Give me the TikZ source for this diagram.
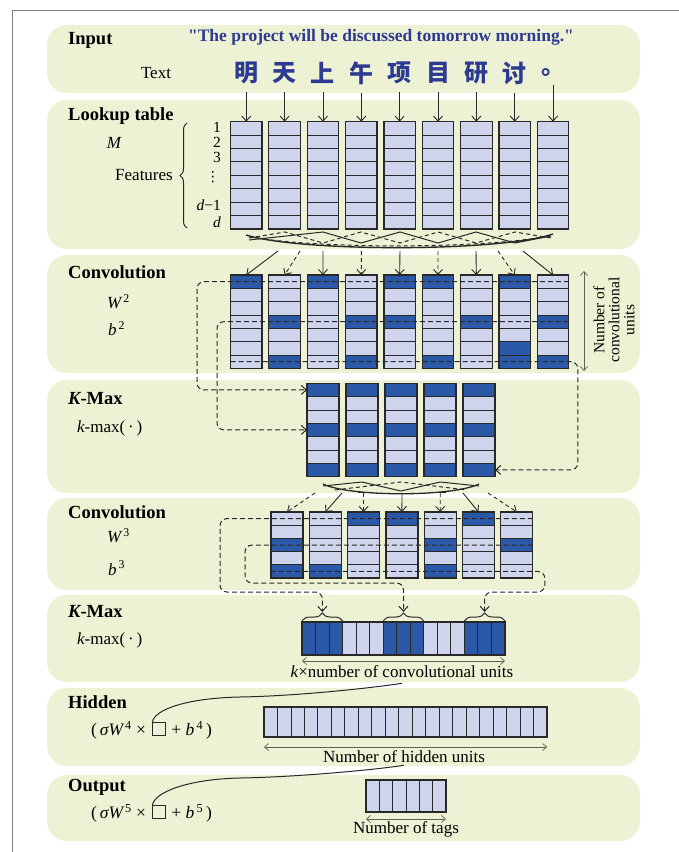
\documentclass[tikz,border=0pt]{standalone}
\usepackage{fontspec}
\setmainfont{Liberation Serif}
\newfontfamily\qfont{Liberation Serif}
\newfontfamily\dvfont{DejaVu Sans}
\newfontfamily\cjkfont{Noto Sans CJK SC}
\usetikzlibrary{arrows.meta,decorations.pathreplacing,calc}
\definecolor{panelc}{RGB}{237,242,212}
\definecolor{lightc}{RGB}{205,212,236}
\definecolor{darkc}{RGB}{44,88,168}
\definecolor{quotec}{RGB}{45,58,145}
\definecolor{framec}{RGB}{128,128,128}
\definecolor{dimc}{RGB}{90,100,85}
\definecolor{linec}{RGB}{40,40,40}
\tikzset{
  panel/.style={fill=panelc, rounded corners=20pt},
  cellL/.style={draw=linec, line width=0.9pt, fill=lightc, inner sep=0pt, outer sep=0pt, anchor=north west},
  cellD/.style={cellL, fill=darkc},
  colbox/.style={draw=linec, line width=1.2pt, inner sep=0pt, outer sep=0pt, anchor=north west},
  title/.style={font=\fontsize{18.5}{20}\selectfont\bfseries, anchor=west, inner sep=0pt},
  lab/.style={font=\fontsize{17}{19}\selectfont, inner sep=0pt},
  small/.style={font=\fontsize{15.5}{15}\selectfont, inner sep=0pt},
  cjk/.style={font=\fontsize{24}{26}\selectfont\cjkfont\bfseries, text=quotec, inner sep=0pt},
  tip/.style={-{Straight Barb[length=5pt,width=9pt]}},
  arr/.style={tip, line width=0.9pt, draw=linec},
  darr/.style={arr, dash pattern=on 4pt off 3pt},
  dline/.style={draw=linec, line width=1pt, dash pattern=on 5pt off 3pt, rounded corners=7pt},
  dimarr/.style={{Straight Barb[length=4pt,width=7pt]}-{Straight Barb[length=4pt,width=7pt]}, draw=dimc, line width=0.7pt},
  bracest/.style={decorate, decoration={brace, amplitude=8pt, raise=1pt}, draw=linec, line width=1pt},
  sqbox/.style={draw=linec, line width=0.8pt, inner sep=0pt, outer sep=0pt, minimum width=13pt, minimum height=13pt},
  swoop/.style={draw=linec, line width=1pt},
  dswoop/.style={swoop, dash pattern=on 4pt off 3pt},
}
\begin{document}
\begin{tikzpicture}[x=1pt,y=-1pt]
\useasboundingbox (0,0) rectangle (679,852);
% frame
\draw[framec, line width=1.3pt] (12.5,852) -- (12.5,10.5) -- (679,10.5);
% panels
\foreach \t/\b in {25/93,100/249,255/373,380/493,498/590,595/682,688/766,775/841}
  \path[panel] (47,\t) rectangle (640,\b);

% ---------------- Input ----------------
\node[title] (tin) at (68,40) {Input};
\node[font=\fontsize{17.5}{19}\selectfont\qfont\bfseries, text=quotec, inner sep=0pt] (quote) at (381,37) {"The project will be discussed tomorrow morning."};
\node[lab] (ttext) at (156,73) {Text};
\foreach \i/\c in {0/明,1/天,2/上,3/午,4/项,5/目,6/研,7/讨,8/。}{
  \pgfmathsetmacro\cx{246.25+38.35*\i}
  \node[cjk] (ch\i) at (\cx,73) {\c};
}

% ---------------- Lookup table ----------------
\node[title] (tlook) at (68,116) {Lookup table};
\node[lab, font=\fontsize{17}{19}\selectfont\itshape] (tM) at (114,143) {M};
\node[lab, anchor=east] (tfeat) at (173,175) {Features};
\draw[bracest, decoration={brace, amplitude=7pt, raise=0pt}] (187,228) -- (187,123);
\node[small, anchor=east] (n1) at (221,127) {1};
\node[small, anchor=east] (n2) at (221,142) {2};
\node[small, anchor=east] (n3) at (221,157) {3};
\node[small, anchor=east, font=\fontsize{14}{14}\selectfont\dvfont] (n4) at (220,177) {⋮};
\node[small, anchor=east] (n5) at (221,205) {{\itshape d}−1};
\node[small, anchor=east] (n6) at (221,222) {{\itshape d}};
\foreach \i in {0,...,8}{
  \pgfmathsetmacro\lx{230.5+38.35*\i}
  \foreach \j in {1,...,8}{
    \pgfmathsetmacro\ly{121.7+13.4*(\j-1)}
    \node[cellL, minimum width=31.5pt, minimum height=13.4pt] (L\i-\j) at (\lx,\ly) {};
  }
  \node[colbox, minimum width=31.5pt, minimum height=107.2pt] (Lcol\i) at (\lx,121.7) {};
  \draw[arr, shorten <=8pt] (ch\i.south) -- (Lcol\i.north);
}
% swoops under lookup table
\draw[swoop] (249,240) -- (323,232) -- (361,243) -- (400,232) -- (438,243) -- (476,232) -- (515,243) -- (551,236);
\draw[dswoop] (249,238) -- (285,232) -- (323,243) -- (361,232) -- (400,243) -- (438,232) -- (476,243) -- (515,232) -- (551,238);
\draw[swoop, line width=1.4pt] (246,235) .. controls (300,252) and (500,252) .. (553,234);
\draw[dswoop] (250,237) .. controls (320,249) and (480,249) .. (550,236);

% ---------------- Convolution 1 ----------------
\node[title] (tconv) at (68,272) {Convolution};
\node[lab, anchor=west] (tW2) at (107,302) {{\itshape W}\textsuperscript{\,2}};
\node[lab, anchor=west] (tb2) at (108,329) {{\itshape b}\textsuperscript{\,2}};
\foreach \i in {0,...,8}{
  \pgfmathsetmacro\lx{230.5+38.35*\i}
  \foreach \j in {1,...,7}{
    \pgfmathsetmacro\ly{275+13.33*(\j-1)}
    \node[cellL, minimum width=31.5pt, minimum height=13.33pt] (C\i-\j) at (\lx,\ly) {};
  }
}
\foreach \i/\j in {0/1,1/4,1/7,2/1,3/4,3/7,4/1,4/4,5/1,5/7,6/4,7/1,7/6,7/7,8/4,8/7}{
  \pgfmathsetmacro\lx{230.5+38.35*\i}
  \pgfmathsetmacro\ly{275+13.33*(\j-1)}
  \node[cellD, minimum width=31.5pt, minimum height=13.33pt] (Cd\i-\j) at (\lx,\ly) {};
}
\foreach \i in {0,...,8}{
  \pgfmathsetmacro\lx{230.5+38.35*\i}
  \node[colbox, minimum width=31.5pt, minimum height=93.3pt] (Ccol\i) at (\lx,275) {};
}
% arrows lookup -> convolution
\foreach \i/\sx in {0/278,2/323,4/400,6/476,8/523}{
  \coordinate (J\i) at (\sx,251);
  \draw[arr] (J\i) -- (Ccol\i.north);
}
\foreach \i/\sx in {1/300,3/361.3,5/438,7/498}{
  \coordinate (J\i) at (\sx,251);
  \draw[darr] (J\i) -- (Ccol\i.north);
}
% number of convolutional units
\coordinate (nc1) at (584,271);
\coordinate (nc2) at (584,371);
\draw[dimarr] (nc1) -- (nc2);
\node[small, rotate=90, align=center] (tncu) at (614,320) {Number of\\convolutional\\units};

% ---------------- K-Max 1 ----------------
\node[title] (tkmax) at (68,399) {{\itshape K}-Max};
\node[lab, anchor=west] (tkf) at (77,428) {{\itshape k}-max(\,·\,)};
\foreach \i in {0,...,4}{
  \pgfmathsetmacro\lx{307+39*\i}
  \foreach \j in {1,...,7}{
    \pgfmathsetmacro\ly{383.3+13.33*(\j-1)}
    \node[cellL, minimum width=32pt, minimum height=13.33pt] (K\i-\j) at (\lx,\ly) {};
  }
  \foreach \j in {1,4,7}{
    \pgfmathsetmacro\ly{383.3+13.33*(\j-1)}
    \node[cellD, minimum width=32pt, minimum height=13.33pt] (Kd\i-\j) at (\lx,\ly) {};
  }
  \node[colbox, minimum width=32pt, minimum height=93.3pt] (Kcol\i) at (\lx,383.3) {};
}
% dashed k-max selections
\draw[dline, tip] (C8-1.east) -- ($(C0-1.west)+(-33.5,0)$) |- (K0-1.west);
\draw[dline, tip] (C8-4.east) -- ($(C0-4.west)+(-13.5,0)$) |- (K0-4.west);
\draw[dline, tip] (C0-7.west) -- ($(C8-7.east)+(9,0)$) |- (K4-7.east);
% swoops under k-max
\draw[swoop] (323,486) -- (362,482) -- (401,491) -- (440,482) -- (479,486);
\draw[dswoop] (335,490) -- (401,482) -- (467,490);
\draw[swoop, line width=1.3pt] (323,484) .. controls (350,497) and (452,497) .. (479,484);

% ---------------- Convolution 2 ----------------
\node[title] (tconv2) at (68,512) {Convolution};
\node[lab, anchor=west] (tW3) at (107,536) {{\itshape W}\textsuperscript{\,3}};
\node[lab, anchor=west] (tb3) at (108,568) {{\itshape b}\textsuperscript{\,3}};
\foreach \i in {0,...,6}{
  \pgfmathsetmacro\lx{271+38.3*\i}
  \foreach \j in {1,...,5}{
    \pgfmathsetmacro\ly{512+13.2*(\j-1)}
    \node[cellL, minimum width=32pt, minimum height=13.2pt] (D\i-\j) at (\lx,\ly) {};
  }
}
\foreach \i/\j in {0/3,0/5,1/5,2/1,3/1,4/3,4/5,5/1,6/3}{
  \pgfmathsetmacro\lx{271+38.3*\i}
  \pgfmathsetmacro\ly{512+13.2*(\j-1)}
  \node[cellD, minimum width=32pt, minimum height=13.2pt] (Dd\i-\j) at (\lx,\ly) {};
}
\foreach \i in {0,...,6}{
  \pgfmathsetmacro\lx{271+38.3*\i}
  \node[colbox, minimum width=32pt, minimum height=66pt] (Dcol\i) at (\lx,512) {};
}
% arrows k-max -> convolution 2
\foreach \i/\sx in {1/342,3/402,5/463}{
  \coordinate (E\i) at (\sx,493);
  \draw[arr] (E\i) -- (Dcol\i.north);
}
\foreach \i/\sx in {0/315,2/363.6,4/440.2,6/488}{
  \coordinate (E\i) at (\sx,493);
  \draw[darr] (E\i) -- (Dcol\i.north);
}
\draw[swoop] (358,492) -- (369,492);
\draw[swoop] (435,492) -- (446,492);

% ---------------- K-Max 2 ----------------
\node[title] (tkmax2) at (68,612) {{\itshape K}-Max};
\node[lab, anchor=west] (tkf2) at (77,640) {{\itshape k}-max(\,·\,)};
\foreach \k in {0,...,14}{
  \pgfmathsetmacro\lx{302+13.533*\k}
  \node[cellL, minimum width=13.533pt, minimum height=33pt] (B\k) at (\lx,622) {};
}
\foreach \k in {0,1,2,6,7,8,12,13,14}{
  \pgfmathsetmacro\lx{302+13.533*\k}
  \node[cellD, minimum width=13.533pt, minimum height=33pt] (Bd\k) at (\lx,622) {};
}
\node[colbox, minimum width=203pt, minimum height=33pt] (Bbar) at (302,622) {};
\draw[bracest] (B0.north west) -- (B2.north east);
\draw[bracest] (B6.north west) -- (B8.north east);
\draw[bracest] (B12.north west) -- (B14.north east);
\coordinate (t1) at ($(B0.north west)!0.5!(B2.north east)+(0,-10)$);
\coordinate (t2) at ($(B6.north west)!0.5!(B8.north east)+(0,-10)$);
\coordinate (t3) at ($(B12.north west)!0.5!(B14.north east)+(0,-10)$);
\draw[dline, tip] (D6-1.east) -- ($(D0-1.west)+(-51,0)$) |- ($(t1)+(0,-20)$) -- (t1);
\draw[dline, tip] (D6-3.east) -- ($(D0-3.west)+(-26,0)$) |- ($(t2)+(0,-29)$) -- (t2);
\draw[dline, tip] (D0-5.west) -- ($(D6-5.east)+(12,0)$) |- ($(t3)+(0,-20)$) -- (t3);
\draw[dimarr] ([yshift=-6pt]B0.south west) -- ([yshift=-6pt]B14.south east);
\node[lab] (klab) at (402,672) {{\itshape k}×number of convolutional units};

% ---------------- Hidden ----------------
\node[title] (thid) at (68,702) {Hidden};
\node[lab, font=\fontsize{17.5}{19}\selectfont, anchor=base west] (hf1) at (91,735.5) {(\,{\itshape σW}\textsuperscript{\,4} ×};
\node[sqbox, anchor=south west] (hsq) at ([xshift=6pt]hf1.base east) {};
\node[lab, font=\fontsize{17.5}{19}\selectfont, anchor=base west] (hf2) at ([xshift=6pt]hsq.south east) {+ {\itshape b}\textsuperscript{\,4}\,)};
\foreach \k in {0,...,20}{
  \pgfmathsetmacro\lx{264+13.48*\k}
  \node[cellL, minimum width=13.48pt, minimum height=30pt] (H\k) at (\lx,707) {};
}
\node[colbox, minimum width=283pt, minimum height=30pt] (Hbar) at (264,707) {};
\draw[dimarr] ([yshift=-10pt]H0.south west) -- ([yshift=-10pt]H20.south east);
\node[lab] (hlab) at (404,757) {Number of hidden units};
\draw[line width=1pt, draw=linec] (hsq.north west) .. controls +(2,-14) and +(-50,1) .. (240,697) .. controls +(60,-1) and +(-25,4) .. ([yshift=-5pt]klab.south);

% ---------------- Output ----------------
\node[title] (tout) at (68,787) {Output};
\node[lab, font=\fontsize{17.5}{19}\selectfont, anchor=base west] (of1) at (91,818.5) {(\,{\itshape σW}\textsuperscript{\,5} ×};
\node[sqbox, anchor=south west] (osq) at ([xshift=6pt]of1.base east) {};
\node[lab, font=\fontsize{17.5}{19}\selectfont, anchor=base west] (of2) at ([xshift=6pt]osq.south east) {+ {\itshape b}\textsuperscript{\,5}\,)};
\foreach \k in {0,...,5}{
  \pgfmathsetmacro\lx{366+13.33*\k}
  \node[cellL, minimum width=13.33pt, minimum height=32pt] (O\k) at (\lx,780) {};
}
\node[colbox, minimum width=80pt, minimum height=32pt] (Obar) at (366,780) {};
\draw[dimarr] ([yshift=-7pt]O0.south west) -- ([yshift=-7pt]O5.south east);
\node[lab] (olab) at (406,829) {Number of tags};
\draw[line width=1pt, draw=linec] (osq.north west) .. controls +(2,-14) and +(-50,1) .. (240,778) .. controls +(60,-1) and +(-25,4) .. ([yshift=-2pt]hlab.south);
\end{tikzpicture}
\end{document}
